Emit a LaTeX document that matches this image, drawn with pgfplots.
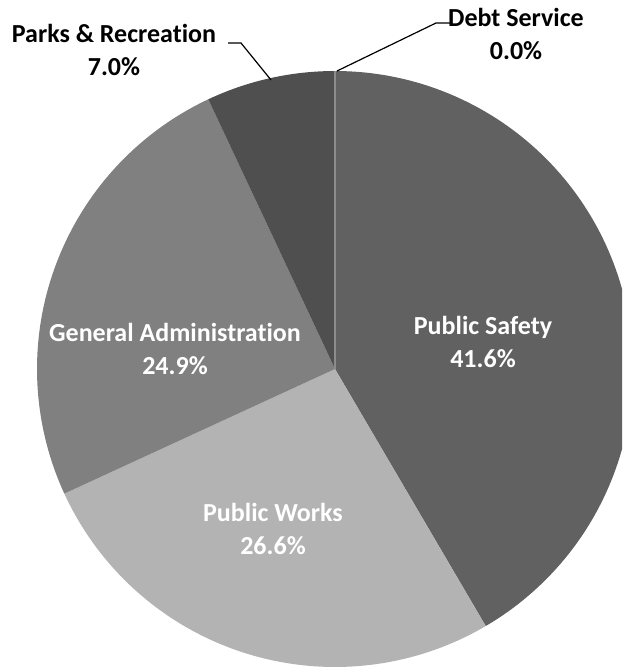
\documentclass[border=0pt]{standalone}
\usepackage{pgfplots}
\pgfplotsset{compat=1.18}
\usepackage{pgfplotstable}
\usepackage{fontspec}
\setmainfont[Ligatures={NoCommon}]{Carlito}
\definecolor{cPS}{HTML}{616161}
\definecolor{cPW}{HTML}{B3B3B3}
\definecolor{cGA}{HTML}{808080}
\definecolor{cPR}{HTML}{4F4F4F}
\definecolor{cDS}{HTML}{8C8C8C}
\pgfplotstableread{
key value
PS 41.6
PW 26.6
GA 24.9
PR 7.0
DS 0.0
}\piedata
\begin{document}
\begin{tikzpicture}
% cumulative angles (clockwise from 12 o'clock), normalised by the total
\pgfplotstablegetelem{0}{value}\of\piedata \let\vA\pgfplotsretval
\pgfplotstablegetelem{1}{value}\of\piedata \let\vB\pgfplotsretval
\pgfplotstablegetelem{2}{value}\of\piedata \let\vC\pgfplotsretval
\pgfplotstablegetelem{3}{value}\of\piedata \let\vD\pgfplotsretval
\pgfplotstablegetelem{4}{value}\of\piedata \let\vE\pgfplotsretval
\pgfmathsetmacro\tot{\vA+\vB+\vC+\vD+\vE}
\pgfmathsetmacro\aA{90}
\pgfmathsetmacro\aB{\aA-360*\vA/\tot}
\pgfmathsetmacro\aC{\aB-360*\vB/\tot}
\pgfmathsetmacro\aD{\aC-360*\vC/\tot}
\pgfmathsetmacro\aE{\aD-360*\vD/\tot}
\pgfmathsetmacro\aF{\aE-360*\vE/\tot}
\useasboundingbox (0,0) rectangle (622pt,667pt);
\begin{axis}[
  scale only axis, width=622pt, height=667pt,
  xmin=0, xmax=622, ymin=0, ymax=667,
  hide axis, clip=true,
  font=\fontsize{26}{33}\selectfont\bfseries,
]
\def\cx{335}\def\cy{298}\def\R{298}
\addplot[fill=cPS, draw=none, domain=\aB:\aA, samples=120, variable=\t]
  ({\cx+\R*cos(t)},{\cy+\R*sin(t)}) -- (\cx,\cy) -- cycle;
\addplot[fill=cPW, draw=none, domain=\aC:\aB, samples=90, variable=\t]
  ({\cx+\R*cos(t)},{\cy+\R*sin(t)}) -- (\cx,\cy) -- cycle;
\addplot[fill=cGA, draw=none, domain=\aD:\aC, samples=90, variable=\t]
  ({\cx+\R*cos(t)},{\cy+\R*sin(t)}) -- (\cx,\cy) -- cycle;
\addplot[fill=cPR, draw=none, domain=\aE:\aD, samples=30, variable=\t]
  ({\cx+\R*cos(t)},{\cy+\R*sin(t)}) -- (\cx,\cy) -- cycle;
% zero-width Debt Service slice: only its edge shows
\addplot[draw=cDS, line width=2pt, domain=0:1, samples=2, variable=\t]
  ({\cx+\t*\R*cos(\aF)},{\cy+\t*\R*sin(\aF)});
% leader lines
\draw[black, line width=1.2pt] (271,587) -- (241,624) -- (228,624);
\draw[black, line width=1.2pt] (337,596) -- (436,644) -- (450,644);
% labels
\node[align=center, text=white] at (483,325) {Public Safety\\41.6\%};
\node[align=center, text=white] at (175,318) {General Administration\\24.9\%};
\node[align=center, text=white] at (273,138) {Public Works\\26.6\%};
\node[align=center, text=black] at (114,617) {Parks \& Recreation\\7.0\%};
\node[align=center, text=black] at (516,633) {Debt Service\\0.0\%};
\end{axis}
\end{tikzpicture}
\end{document}
